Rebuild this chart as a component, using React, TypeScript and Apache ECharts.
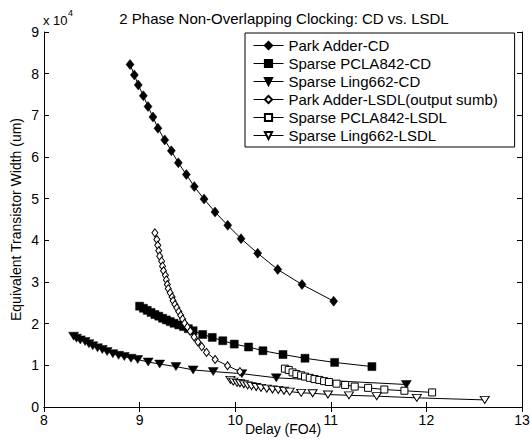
import React, { useEffect, useRef } from "react";
import * as echarts from "echarts";

const titleText = "2 Phase Non-Overlapping Clocking: CD vs. LSDL";
const xName = "Delay (FO4)";
const yName = "Equivalent Transistor Width (um)";
const seriesNames = [
  "Park Adder-CD",
  "Sparse PCLA842-CD",
  "Sparse Ling662-CD",
  "Park Adder-LSDL(output sumb)",
  "Sparse PCLA842-LSDL",
  "Sparse Ling662-LSDL",
];

const parkAdderCD = [
  [8.9, 82200], [8.945, 79700], [8.986, 77300], [9.039, 74700], [9.088, 72100],
  [9.14, 69600], [9.192, 66900], [9.263, 64100], [9.332, 61500], [9.405, 58600],
  [9.489, 55800], [9.572, 52900], [9.674, 49900], [9.789, 46800], [9.922, 43600],
  [10.061, 40400], [10.235, 36900], [10.445, 33000], [10.699, 29400], [11.03, 25400],
];

const pcla842CD = [
  [9.0, 24200], [9.04, 23700], [9.08, 23200], [9.12, 22700], [9.16, 22200],
  [9.2, 21800], [9.24, 21300], [9.28, 20900], [9.32, 20500], [9.36, 20100],
  [9.41, 19700], [9.46, 19300], [9.51, 18800], [9.56, 18300], [9.66, 17400],
  [9.76, 16700], [9.87, 15900], [9.99, 15100], [10.14, 14400], [10.29, 13500],
  [10.5, 12600], [10.73, 11700], [11.04, 10700], [11.43, 9700],
];

const ling662CD = [
  [8.31, 17000], [8.34, 16500], [8.38, 16100], [8.43, 15700], [8.47, 15200],
  [8.51, 14700], [8.56, 14200], [8.61, 13800], [8.66, 13300], [8.72, 12800],
  [8.78, 12400], [8.84, 12100], [8.91, 11700], [8.98, 11400], [9.09, 10800],
  [9.21, 10300], [9.38, 9700], [9.56, 8900], [9.77, 8500], [10.07, 8000],
  [10.43, 7000], [11.79, 5400],
];

const parkAdderLSDL = [
  [9.16, 41800], [9.18, 40200], [9.19, 38800], [9.2, 37500], [9.21, 36200],
  [9.23, 35000], [9.24, 33800], [9.25, 32700], [9.27, 31600], [9.28, 30500],
  [9.29, 29400], [9.3, 28400], [9.32, 27400], [9.34, 26400], [9.35, 25500],
  [9.37, 24600], [9.39, 23800], [9.41, 22900], [9.43, 22000], [9.45, 21100],
  [9.47, 20100], [9.5, 19200], [9.53, 18200], [9.57, 16800], [9.61, 15600],
  [9.65, 14500], [9.7, 13100], [9.79, 11400], [9.92, 9900], [10.05, 8500],
];

const pcla842LSDL = [
  [10.52, 9200], [10.56, 8900], [10.6, 8300], [10.64, 7900], [10.69, 7600],
  [10.73, 7300], [10.78, 7000], [10.83, 6700], [10.88, 6500], [10.93, 6200],
  [10.98, 6000], [11.06, 5600], [11.15, 5300], [11.25, 4900], [11.39, 4600],
  [11.56, 4200], [11.77, 3900], [12.06, 3500],
];

const ling662LSDL = [
  [9.95, 6500], [9.98, 6100], [10.02, 5800], [10.05, 5700], [10.09, 5450],
  [10.13, 5200], [10.17, 5000], [10.22, 4800], [10.27, 4600], [10.33, 4400],
  [10.39, 4200], [10.45, 4100], [10.51, 3900], [10.57, 3700], [10.69, 3400],
  [10.81, 3300], [10.97, 3000], [11.19, 2800], [11.48, 2600], [11.9, 2200],
  [12.61, 1700],
];

const FONT = "'Liberation Sans', Arial, sans-serif";

export default function App() {
  const ref = useRef<HTMLDivElement>(null);
  useEffect(() => {
    document.body.style.margin = "0";
    const chart = echarts.init(ref.current!, null, { renderer: "svg" });
    const mk = (
      name: string,
      data: number[][],
      symbol: string,
      size: number | number[],
      filled: boolean,
      rotate = 0
    ) => ({
      type: "line",
      name,
      data,
      symbol,
      symbolSize: size,
      symbolRotate: rotate,
      showAllSymbol: true,
      lineStyle: { color: "#000", width: 1 },
      itemStyle: filled
        ? { color: "#000", borderColor: "#000", borderWidth: 0.5 }
        : { color: "#fff", borderColor: "#000", borderWidth: 1 },
      emphasis: { disabled: true },
      z: 3,
    });
    const tickStyle = { lineStyle: { color: "#000", width: 1 } };
    chart.setOption({
      animation: false,
      backgroundColor: "#fff",
      textStyle: { fontFamily: FONT, color: "#000" },
      title: {
        text: titleText,
        left: 279,
        textAlign: "center",
        top: 6,
        textStyle: { fontSize: 15, fontWeight: "normal", color: "#000", fontFamily: FONT },
      },
      graphic: [
        {
          type: "text",
          left: 43,
          top: 14,
          style: { text: "x 10", fontSize: 13, fill: "#000", fontFamily: FONT },
        },
        {
          type: "text",
          left: 68,
          top: 8,
          style: { text: "4", fontSize: 9, fill: "#000", fontFamily: FONT },
        },
      ],
      grid: { left: 44, right: 8, top: 32, bottom: 33, outerBoundsMode: "none", containLabel: false },
      legend: {
        orient: "vertical",
        left: 245,
        top: 33,
        backgroundColor: "#fff",
        borderColor: "#000",
        borderWidth: 1,
        borderRadius: 0,
        padding: [5, 16, 4, 8],
        itemGap: 3,
        itemWidth: 30,
        itemHeight: 9,
        lineStyle: { width: 1 },
        textStyle: { fontSize: 15, color: "#000", fontFamily: FONT },
        data: seriesNames,
      },
      xAxis: [
        {
          type: "value",
          min: 8,
          max: 13,
          interval: 1,
          name: xName,
          nameLocation: "middle",
          nameGap: 15,
          nameMoveOverlap: false,
          nameTextStyle: { fontSize: 14, color: "#000", fontFamily: FONT },
          axisLine: { show: true, onZero: false, lineStyle: { color: "#000" } },
          axisTick: { inside: true, length: 5, ...tickStyle },
          axisLabel: { fontSize: 14, color: "#000", margin: 6, fontFamily: FONT },
          splitLine: { show: false },
        },
        {
          type: "value",
          position: "top",
          min: 8,
          max: 13,
          interval: 1,
          axisLine: { show: true, lineStyle: { color: "#000" } },
          axisTick: { inside: true, length: 5, ...tickStyle },
          axisLabel: { show: false },
          splitLine: { show: false },
        },
      ],
      yAxis: [
        {
          type: "value",
          min: 0,
          max: 90000,
          interval: 10000,
          name: yName,
          nameLocation: "middle",
          nameGap: 21,
          nameMoveOverlap: false,
          nameTextStyle: { fontSize: 14, color: "#000", fontFamily: FONT },
          axisLine: { show: true, onZero: false, lineStyle: { color: "#000" } },
          axisTick: { inside: true, length: 5, ...tickStyle },
          axisLabel: {
            fontSize: 14,
            color: "#000",
            margin: 5,
            fontFamily: FONT,
            formatter: (v: number) => String(v / 10000),
          },
          splitLine: { show: false },
        },
        {
          type: "value",
          position: "right",
          min: 0,
          max: 90000,
          interval: 10000,
          axisLine: { show: true, lineStyle: { color: "#000" } },
          axisTick: { inside: true, length: 5, ...tickStyle },
          axisLabel: { show: false },
          splitLine: { show: false },
        },
      ],
      series: [
        mk(seriesNames[0], parkAdderCD, "diamond", [8, 10], true),
        mk(seriesNames[1], pcla842CD, "rect", 8, true),
        mk(seriesNames[2], ling662CD, "triangle", [10, 8], true, 180),
        mk(seriesNames[3], parkAdderLSDL, "diamond", [6, 8], false),
        mk(seriesNames[4], pcla842LSDL, "rect", 7, false),
        mk(seriesNames[5], ling662LSDL, "triangle", [9, 7], false, 180),
      ],
    });
    return () => chart.dispose();
  }, []);
  return <div ref={ref} style={{ width: 530, height: 440 }} />;
}
